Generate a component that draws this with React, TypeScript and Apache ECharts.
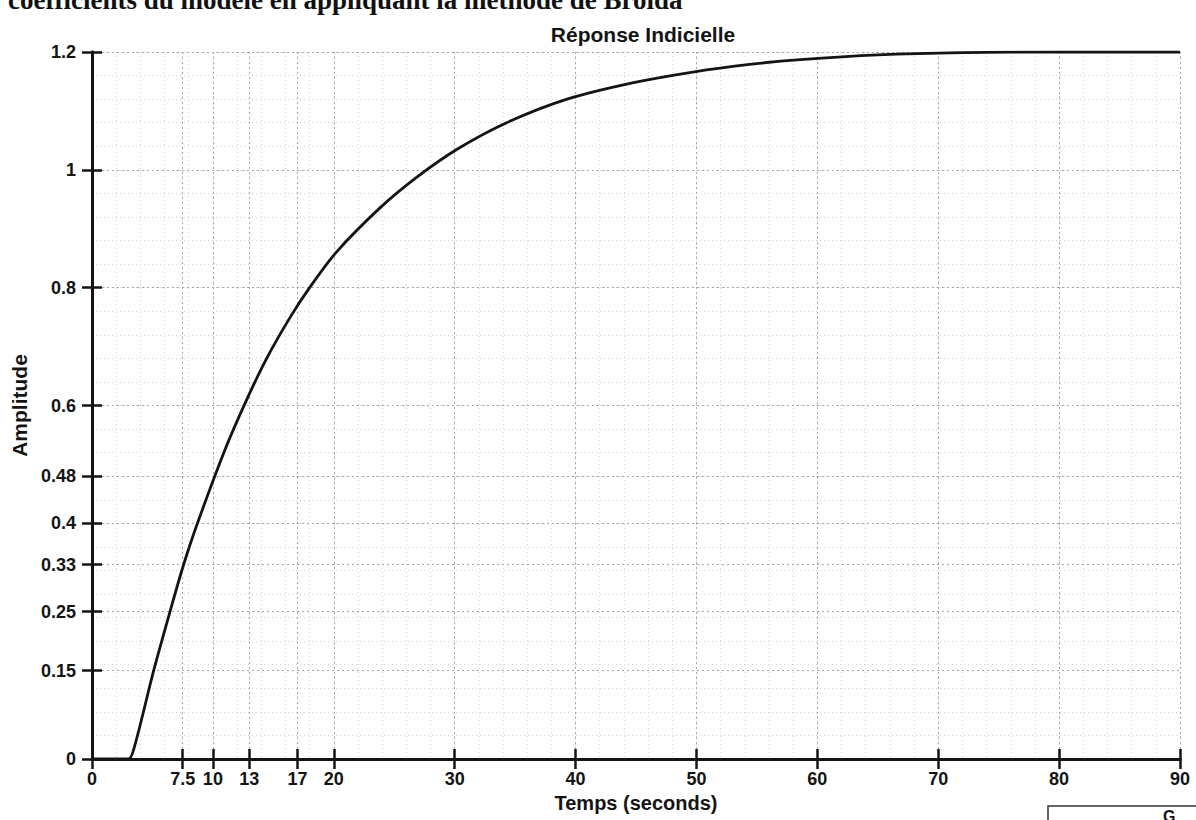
import React, { useEffect, useRef } from "react";
import * as echarts from "echarts";

// Step response: time (s) and amplitude
const TIME = [0, 3.0, 3.5, 5.1, 6.45, 7.55, 8.65, 11.0, 12.8, 14.45, 16.4, 18.0, 20.2, 23.8, 26.9, 30.2, 34.3, 39.3, 44.8, 49.7, 54.4, 58.6, 65, 72, 80, 90];
const AMPLITUDE = [0, 0, 0.02, 0.15, 0.25, 0.328, 0.396, 0.525, 0.61, 0.68, 0.75, 0.8, 0.86, 0.935, 0.988, 1.035, 1.08, 1.12, 1.148, 1.166, 1.179, 1.187, 1.195, 1.199, 1.2, 1.2];

const X_TICKS = [0, 7.5, 10, 13, 17, 20, 30, 40, 50, 60, 70, 80, 90];
const Y_TICKS = [0, 0.15, 0.25, 0.33, 0.4, 0.48, 0.6, 0.8, 1, 1.2];

const TITLE = "Réponse Indicielle";
const X_NAME = "Temps (seconds)";
const Y_NAME = "Amplitude";
const HEADER = "coefficients du modèle en appliquant la méthode de Broïda";

export default function App() {
  const ref = useRef<HTMLDivElement>(null);

  useEffect(() => {
    if (!ref.current) return;
    const chart = echarts.init(ref.current, null, { renderer: "svg" });
    const sans = "Liberation Sans, Arial, sans-serif";
    const ink = "#141414";
    const tickLabel = { fontFamily: sans, fontWeight: "bold" as const, fontSize: 18, color: ink };
    const majorGrid = { show: true, lineStyle: { color: "#a6a6a6", type: [2, 3] as number[], width: 1 } };
    const minorGrid = { show: true, lineStyle: { color: "#d4d4d4", type: [1, 3] as number[], width: 1 } };
    const hidden = {
      axisLine: { show: false },
      axisTick: { show: false },
      axisLabel: { show: false },
    };

    chart.setOption({
      animation: false,
      backgroundColor: "#ffffff",
      title: {
        text: TITLE,
        left: 638,
        top: 19,
        textAlign: "center",
        textStyle: { fontFamily: sans, fontWeight: "bold", fontSize: 21, color: ink },
      },
      grid: { left: 92, right: 16, top: 52, bottom: 61 },
      xAxis: [
        {
          type: "value",
          min: 0,
          max: 90,
          position: "bottom",
          name: X_NAME,
          nameLocation: "middle",
          nameGap: 31,
          nameTextStyle: { fontFamily: sans, fontWeight: "bold", fontSize: 20, color: ink },
          axisLine: { show: true, lineStyle: { color: ink, width: 3 } },
          axisTick: { show: true, inside: true, length: 10, customValues: X_TICKS, lineStyle: { color: ink, width: 2.5 } },
          axisLabel: { ...tickLabel, customValues: X_TICKS, margin: 11 },
          splitLine: majorGrid,
          z: 3,
        },
        {
          type: "value",
          min: 0,
          max: 90,
          position: "top",
          axisLine: { show: true, lineStyle: { color: ink, width: 3 } },
          axisTick: { show: true, inside: true, length: 10, customValues: X_TICKS, lineStyle: { color: ink, width: 2.5 } },
          axisLabel: { show: false },
          splitLine: { show: false },
          z: 3,
        },
        {
          type: "value",
          min: 0,
          max: 90,
          interval: 2,
          position: "bottom",
          ...hidden,
          splitLine: minorGrid,
          z: 1,
        },
      ],
      yAxis: [
        {
          type: "value",
          min: 0,
          max: 1.2,
          position: "left",
          name: Y_NAME,
          nameLocation: "middle",
          nameGap: 62,
          nameTextStyle: { fontFamily: sans, fontWeight: "bold", fontSize: 21, color: ink },
          axisLine: { show: true, lineStyle: { color: ink, width: 3 } },
          axisTick: { show: true, inside: true, length: 10, customValues: Y_TICKS, lineStyle: { color: ink, width: 2.5 } },
          axisLabel: { ...tickLabel, customValues: Y_TICKS, margin: 16 },
          splitLine: majorGrid,
          z: 3,
        },
        {
          type: "value",
          min: 0,
          max: 1.2,
          position: "right",
          axisLine: { show: true, lineStyle: { color: ink, width: 3 } },
          axisTick: { show: true, inside: true, length: 10, customValues: Y_TICKS, lineStyle: { color: ink, width: 2.5 } },
          axisLabel: { show: false },
          splitLine: { show: false },
          z: 3,
        },
        {
          type: "value",
          min: 0,
          max: 1.2,
          interval: 0.04,
          position: "left",
          ...hidden,
          splitLine: minorGrid,
          z: 1,
        },
      ],
      series: [
        {
          type: "line",
          xAxisIndex: 0,
          yAxisIndex: 0,
          data: TIME.map((t, i) => [t, AMPLITUDE[i]]),
          showSymbol: false,
          smooth: 0.3,
          lineStyle: { color: ink, width: 2.8 },
          z: 5,
        },
      ],
      graphic: [
        {
          type: "text",
          left: 8,
          top: -14,
          style: {
            text: HEADER,
            font: "bold 27px 'Liberation Serif', 'Times New Roman', serif",
            fill: "#111",
          },
        },
        {
          type: "polyline",
          shape: { points: [[1048, 822], [1048, 806], [1198, 806]] },
          style: { stroke: "#333", lineWidth: 1.5, fill: "none" },
        },
        {
          type: "text",
          left: 1163,
          top: 808,
          style: { text: "G", font: "bold 16px 'Liberation Sans', sans-serif", fill: "#111" },
        },
      ],
    });

    return () => chart.dispose();
  }, []);

  return (
    <div
      ref={ref}
      style={{ position: "fixed", left: 0, top: 0, width: 1196, height: 820, background: "#fff" }}
    />
  );
}
